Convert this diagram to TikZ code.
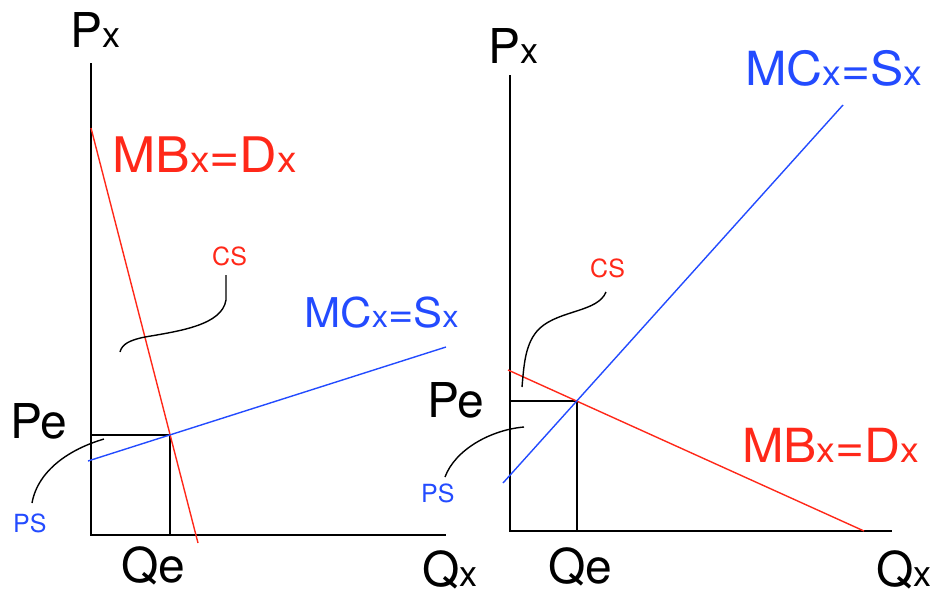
\documentclass[tikz,border=0pt]{standalone}
\usepackage{fontspec}
\setmainfont{TeX Gyre Heros}
\newfontfamily\curvefont[FakeStretch=1.06]{TeX Gyre Heros}
\usetikzlibrary{calc}
\definecolor{MBRed}{RGB}{255,40,25}
\definecolor{MCBlue}{RGB}{35,75,255}
\newcommand{\smx}{\scalebox{0.75}{x}}

\begin{document}
\begin{tikzpicture}[x=1pt,y=-1pt, every node/.style={inner sep=0pt, anchor=base west},
  big/.style={font=\fontsize{48}{50}\selectfont},
  curvelabel/.style={font=\curvefont\fontsize{#1}{50}\selectfont},
  curvelabel/.default=47,
  small/.style={font=\fontsize{25}{28}\selectfont},
  axis/.style={line width=2.2pt},
  curve/.style={line width=1.4pt}]
  \useasboundingbox (0,0) rectangle (938,598);

  % left panel
  \coordinate (o1) at (91,535);
  \coordinate (ytop1) at (91,63);
  \coordinate (xend1) at (446,535);
  \coordinate (d1a) at (91,128);
  \coordinate (d1b) at (198,543);
  \coordinate (s1a) at (88,461);
  \coordinate (s1b) at (446,347);
  \coordinate (e1) at (intersection of d1a--d1b and s1a--s1b);
  \draw[axis] (ytop1) -- (o1) -- (xend1);
  \draw[axis] (o1 |- e1) -- (e1) -- (o1 -| e1);
  \draw[curve, MBRed] (d1a) -- (d1b);
  \draw[curve, MCBlue] (s1a) -- (s1b);

  \node[big] (px1) at (70,47) {P\smx};
  \node[curvelabel=49, MBRed] (mb1) at (112,172) {MB\smx=D\smx};
  \node[curvelabel=41, MCBlue] (mc1) at (304,327) {MC\smx=S\smx};
  \node[big] (pe1) at (10,438) {Pe};
  \node[big] (qe1) at (121,582) {Qe};
  \node[big] (qx1) at (422,586) {Q\smx};
  \node[small, MBRed] (cs1) at (212,265) {CS};
  \node[small, MCBlue] (ps1) at (13,532) {PS};

  \coordinate (cs1from) at (226,275);
  \coordinate (cs1to) at (120,352);
  \coordinate (ps1from) at (32,503);
  \coordinate (ps1to) at (104,439);
  \draw[curve] (cs1from) -- ++(0,25) .. controls (222,325) and (180,331) .. (145,337)
    .. controls (130,340) and (122,344) .. (cs1to);
  \draw[curve] (ps1from) .. controls (38,470) and (70,449) .. (ps1to);

  % right panel
  \coordinate (o2) at (510,531);
  \coordinate (ytop2) at (510,75);
  \coordinate (xend2) at (892,531);
  \coordinate (d2a) at (508,370);
  \coordinate (d2b) at (864,531);
  \coordinate (s2a) at (503,483);
  \coordinate (s2b) at (843,105);
  \coordinate (e2) at (intersection of d2a--d2b and s2a--s2b);
  \draw[axis] (ytop2) -- (o2) -- (xend2);
  \draw[axis] (o2 |- e2) -- (e2) -- (o2 -| e2);
  \draw[curve, MBRed] (d2a) -- (d2b);
  \draw[curve, MCBlue] (s2a) -- (s2b);

  \node[big] (px2) at (488,63) {P\smx};
  \node[curvelabel, MCBlue] (mc2) at (745,85) {MC\smx=S\smx};
  \node[curvelabel, MBRed] (mb2) at (742,462) {MB\smx=D\smx};
  \node[big] (pe2) at (427,417) {Pe};
  \node[big] (qe2) at (548,583) {Qe};
  \node[big] (qx2) at (876,586) {Q\smx};
  \node[small, MBRed] (cs2) at (590,277) {CS};
  \node[small, MCBlue] (ps2) at (421,502) {PS};

  \coordinate (cs2from) at (606,292);
  \coordinate (cs2to) at (522,387);
  \coordinate (ps2from) at (445,477);
  \coordinate (ps2to) at (524,427);
  \draw[curve] (cs2from) .. controls (598,312) and (560,310) .. (540,328)
    .. controls (525,342) and (524,365) .. (cs2to);
  \draw[curve] (ps2from) .. controls (455,450) and (490,430) .. (ps2to);
\end{tikzpicture}
\end{document}
